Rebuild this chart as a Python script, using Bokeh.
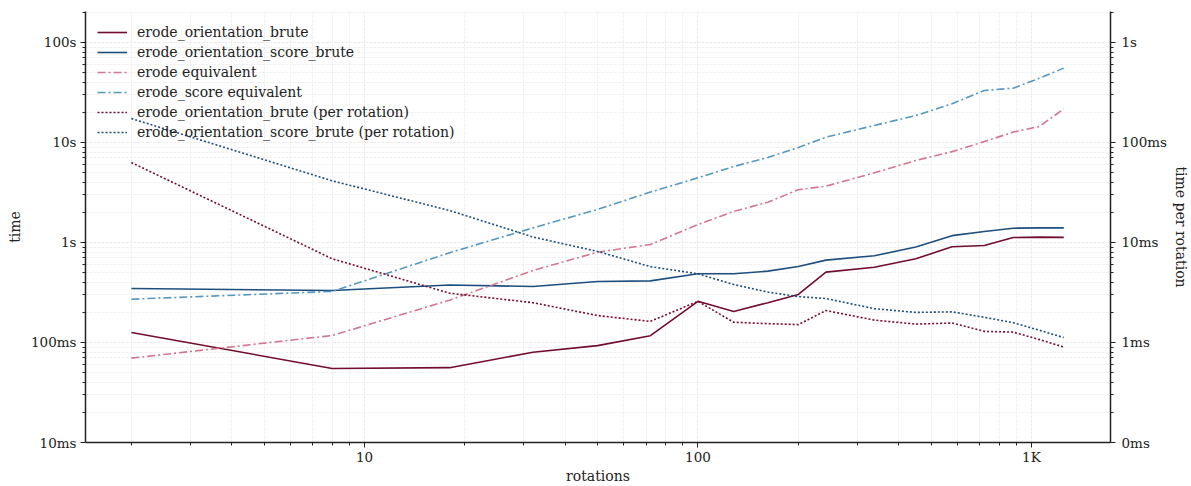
from bokeh.plotting import figure
from bokeh.models import (Range1d, LogAxis, FixedTicker, CustomJSTickFormatter,
                          Legend, LegendItem)
from bokeh.embed import file_html
from bokeh.resources import INLINE

# number of rotations tested
rotations = [2, 8, 18, 32, 50, 72, 100, 128, 162, 200, 242, 338, 450, 578, 722, 882, 1058, 1250]

# total time in seconds
erode_orientation_brute = [0.126, 0.055, 0.056, 0.080, 0.093, 0.117, 0.258, 0.204, 0.25,
                           0.302, 0.505, 0.566, 0.687, 0.905, 0.933, 1.12, 1.13, 1.125]
erode_orientation_score_brute = [0.347, 0.331, 0.376, 0.363, 0.407, 0.413, 0.486, 0.486, 0.517,
                                 0.575, 0.666, 0.736, 0.90, 1.17, 1.29, 1.39, 1.40, 1.40]
erode_equivalent = [0.0697, 0.1175, 0.265, 0.525, 0.80, 0.955, 1.51, 2.04, 2.53,
                    3.37, 3.66, 4.97, 6.6, 8.1, 10.2, 12.7, 14.5, 21.7]
erode_score_equivalent = [0.271, 0.324, 0.79, 1.40, 2.14, 3.19, 4.43, 5.75, 7.08,
                          8.9, 11.3, 14.8, 18.6, 24.4, 33.1, 34.9, 44.0, 55.4]

# per-rotation cost of the brute-force runs
brute_per_rot = [t / r for t, r in zip(erode_orientation_brute, rotations)]
score_brute_per_rot = [t / r for t, r in zip(erode_orientation_score_brute, rotations)]

x_major = [10, 100, 1000]
y_major = [0.01, 0.1, 1, 10, 100]
y2_major = [0.0001, 0.001, 0.01, 0.1, 1]

FONT = "DejaVu Serif"
TXT = "#222222"
DARK_RED = "#720c2c"
DARK_BLUE = "#1d4e7e"
PINK = "#d4768f"
STEEL = "#5597bf"


def minors(majors):
    out = []
    decades = [majors[0] / 10] + list(majors)
    for d in decades:
        out += [d * k for k in range(2, 10)]
    return out


p = figure(width=1191, height=486, x_axis_type="log", y_axis_type="log",
           x_range=Range1d(1.457, 1726), y_range=Range1d(0.01, 204),
           output_backend="svg", toolbar_location=None,
           min_border_left=85, min_border_right=81, min_border_top=11, min_border_bottom=44)
p.outline_line_color = None
p.background_fill_color = "white"
p.border_fill_color = "white"

p.extra_y_ranges = {"per": Range1d(0.0001, 2.04)}
right_axis = LogAxis(y_range_name="per", axis_label="time per rotation")
p.add_layout(right_axis, "right")

x_fmt = CustomJSTickFormatter(code="""
    if (tick >= 1000) { return Math.round(tick / 1000).toString() + "K"; }
    return Math.round(tick).toString();
""")
t_fmt = CustomJSTickFormatter(code="""
    if (tick >= 1) { return Math.round(tick).toString() + "s"; }
    return Math.round(tick * 1000).toString() + "ms";
""")

p.xaxis.ticker = FixedTicker(ticks=x_major, minor_ticks=minors(x_major))
p.xaxis.formatter = x_fmt
p.xaxis.axis_label = "rotations"

p.yaxis[0].ticker = FixedTicker(ticks=y_major, minor_ticks=minors(y_major))
p.yaxis[0].formatter = t_fmt
p.yaxis[0].axis_label = "time"

right_axis.ticker = FixedTicker(ticks=y2_major, minor_ticks=minors(y2_major))
right_axis.formatter = t_fmt

for ax in p.axis:
    ax.axis_line_color = "#222222"
    ax.axis_line_width = 1.5
    ax.major_tick_line_color = "#222222"
    ax.minor_tick_line_color = "#222222"
    ax.major_tick_in = 0
    ax.major_tick_out = 5
    ax.minor_tick_in = 0
    ax.minor_tick_out = 3
    ax.major_label_text_font = FONT
    ax.major_label_text_font_size = "13.5px"
    ax.major_label_text_color = TXT
    ax.axis_label_text_font = FONT
    ax.axis_label_text_font_size = "14px"
    ax.axis_label_text_font_style = "normal"
    ax.axis_label_text_color = TXT
    ax.major_label_standoff = 4

p.yaxis[0].axis_label_standoff = 5
right_axis.major_label_standoff = 6
right_axis.axis_label_standoff = 3
p.xaxis.major_label_standoff = 1
p.xaxis.axis_label_standoff = 0

for g in (p.xgrid[0], p.ygrid[0]):
    g.grid_line_color = "#e6e6e6"
    g.grid_line_width = 0.8
    g.grid_line_dash = "3 1"
    g.minor_grid_line_color = "#ececec"
    g.minor_grid_line_width = 0.8
    g.minor_grid_line_dash = "3 1"

r1 = p.line(rotations, erode_orientation_brute, line_color=DARK_RED, line_width=1.6)
r2 = p.line(rotations, erode_orientation_score_brute, line_color=DARK_BLUE, line_width=1.6)
r3 = p.line(rotations, erode_equivalent, line_color=PINK, line_width=1.6, line_dash="8 3 2 3")
r4 = p.line(rotations, erode_score_equivalent, line_color=STEEL, line_width=1.6, line_dash="8 3 2 3")
r5 = p.line(rotations, brute_per_rot, line_color=DARK_RED, line_width=1.6, line_dash="2 2",
            y_range_name="per")
r6 = p.line(rotations, score_brute_per_rot, line_color=DARK_BLUE, line_width=1.6, line_dash="2 2",
            y_range_name="per")

# legend block anchored by its lower-left corner, in pixels from the frame's lower-left
legend = Legend(items=[
    LegendItem(label="erode_orientation_brute", renderers=[r1]),
    LegendItem(label="erode_orientation_score_brute", renderers=[r2]),
    LegendItem(label="erode equivalent", renderers=[r3]),
    LegendItem(label="erode_score equivalent", renderers=[r4]),
    LegendItem(label="erode_orientation_brute (per rotation)", renderers=[r5]),
    LegendItem(label="erode_orientation_score_brute (per rotation)", renderers=[r6]),
], location=(12, 300))
legend.background_fill_alpha = 0
legend.border_line_color = None
legend.margin = 0
legend.padding = 0
legend.spacing = 0
legend.glyph_width = 30
legend.glyph_height = 20
legend.label_height = 20
legend.label_standoff = 10
legend.label_text_font = FONT
legend.label_text_font_size = "14px"
legend.label_text_color = TXT
p.add_layout(legend)

open("out.html", "w").write(file_html(p, INLINE))
